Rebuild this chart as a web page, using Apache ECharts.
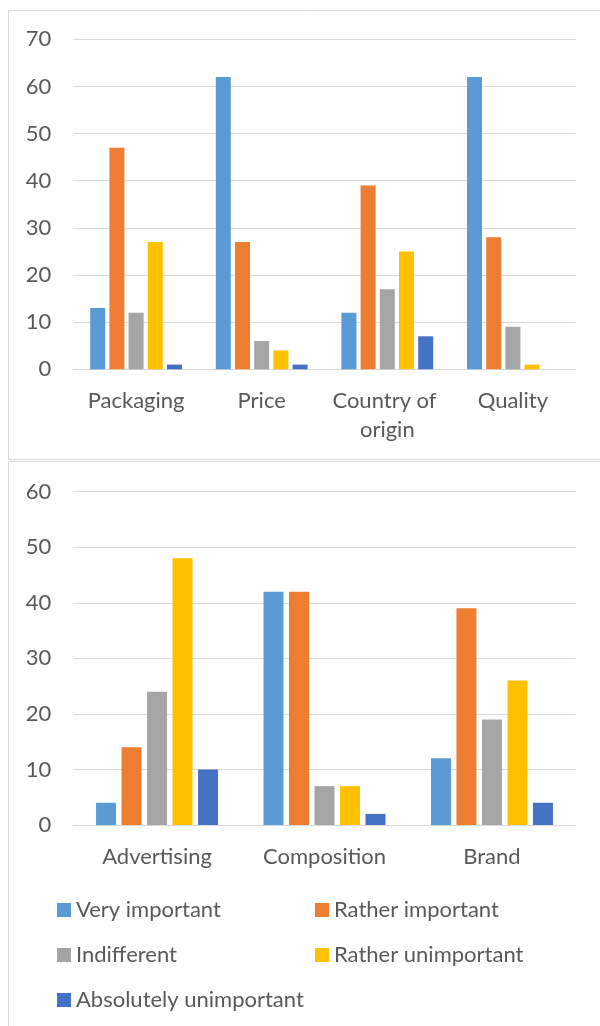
<!DOCTYPE html>
<html>
<head>
<meta charset="utf-8">
<script src="https://cdn.jsdelivr.net/npm/echarts@6/dist/echarts.min.js"></script>
<style>
  html, body { margin: 0; padding: 0; background: #ffffff; }
  #chart { width: 600px; height: 1026px; }
</style>
</head>
<body>
<div id="chart"></div>
<script>
// Survey: importance of product attributes (number of respondents)
const seriesNames = ['Very important', 'Rather important', 'Indifferent', 'Rather unimportant', 'Absolutely unimportant'];
const seriesColors = ['#5B9BD5', '#ED7D31', '#A5A5A5', '#FFC000', '#4472C4'];

const topCategories = ['Packaging', 'Price', 'Country of origin', 'Quality'];
const veryImportantTop = [13, 62, 12, 62];
const ratherImportantTop = [47, 27, 39, 28];
const indifferentTop = [12, 6, 17, 9];
const ratherUnimportantTop = [27, 4, 25, 1];
const absolutelyUnimportantTop = [1, 1, 7, 0];

const bottomCategories = ['Advertising', 'Composition', 'Brand'];
const veryImportantBottom = [4, 42, 12];
const ratherImportantBottom = [14, 42, 39];
const indifferentBottom = [24, 7, 19];
const ratherUnimportantBottom = [48, 7, 26];
const absolutelyUnimportantBottom = [10, 2, 4];

const topAxisMax = 70;
const bottomAxisMax = 60;
const axisStep = 10;

const FONT = 'Lato';
const TEXT_COLOR = '#595959';
const LINE_COLOR = '#d9d9d9';

const topData = [veryImportantTop, ratherImportantTop, indifferentTop, ratherUnimportantTop, absolutelyUnimportantTop];
const bottomData = [veryImportantBottom, ratherImportantBottom, indifferentBottom, ratherUnimportantBottom, absolutelyUnimportantBottom];

function makeXAxis(gridIndex, categories, labelWidth) {
  return {
    type: 'category',
    gridIndex: gridIndex,
    data: categories,
    axisTick: { show: false },
    axisLine: { lineStyle: { color: LINE_COLOR, width: 1 } },
    axisLabel: {
      interval: 0,
      color: TEXT_COLOR,
      fontFamily: FONT,
      fontSize: 22,
      lineHeight: 29,
      margin: 17,
      width: labelWidth,
      overflow: 'break'
    }
  };
}

function makeYAxis(gridIndex, max) {
  return {
    type: 'value',
    gridIndex: gridIndex,
    min: 0,
    max: max,
    interval: axisStep,
    axisLine: { show: false },
    axisTick: { show: false },
    splitLine: { lineStyle: { color: LINE_COLOR, width: 1 } },
    axisLabel: {
      color: TEXT_COLOR,
      fontFamily: FONT,
      fontSize: 22,
      margin: 22
    }
  };
}

const series = [];
seriesNames.forEach(function (name, i) {
  series.push({
    name: name,
    type: 'bar',
    xAxisIndex: 0,
    yAxisIndex: 0,
    data: topData[i],
    barWidth: 15,
    barGap: '28%',
    itemStyle: { color: seriesColors[i] }
  });
});
seriesNames.forEach(function (name, i) {
  series.push({
    name: name,
    type: 'bar',
    xAxisIndex: 1,
    yAxisIndex: 1,
    data: bottomData[i],
    barWidth: 20,
    barGap: '27.5%',
    itemStyle: { color: seriesColors[i] }
  });
});

// Two-column legend, one entry per block so the columns line up
const legendSlots = [
  { left: 57, top: 898 },
  { left: 315, top: 898 },
  { left: 57, top: 943 },
  { left: 315, top: 943 },
  { left: 57, top: 988 }
];
const legends = seriesNames.map(function (name, i) {
  return {
    data: [name],
    left: legendSlots[i].left,
    top: legendSlots[i].top,
    padding: 0,
    icon: 'rect',
    itemWidth: 14,
    itemHeight: 14,
    textStyle: { color: TEXT_COLOR, fontFamily: FONT, fontSize: 22, lineHeight: 24 }
  };
});

const chart = echarts.init(document.getElementById('chart'), null, { renderer: 'canvas' });
chart.setOption({
  backgroundColor: '#ffffff',
  animation: false,
  textStyle: { fontFamily: FONT },
  graphic: [
    {
      type: 'rect',
      silent: true,
      shape: { x: 8.5, y: 10.5, width: 640, height: 449 },
      style: { fill: 'none', stroke: LINE_COLOR, lineWidth: 1 }
    },
    {
      type: 'rect',
      silent: true,
      shape: { x: 8.5, y: 461.5, width: 640, height: 640 },
      style: { fill: 'none', stroke: LINE_COLOR, lineWidth: 1 }
    }
  ],
  grid: [
    { left: 73.3, right: 24.3, top: 39.3, height: 330, containLabel: false },
    { left: 73.3, right: 24.3, top: 491.7, height: 333.3, containLabel: false }
  ],
  xAxis: [makeXAxis(0, topCategories, 118), makeXAxis(1, bottomCategories, 160)],
  yAxis: [makeYAxis(0, topAxisMax), makeYAxis(1, bottomAxisMax)],
  legend: legends,
  series: series
});
</script>
</body>
</html>
